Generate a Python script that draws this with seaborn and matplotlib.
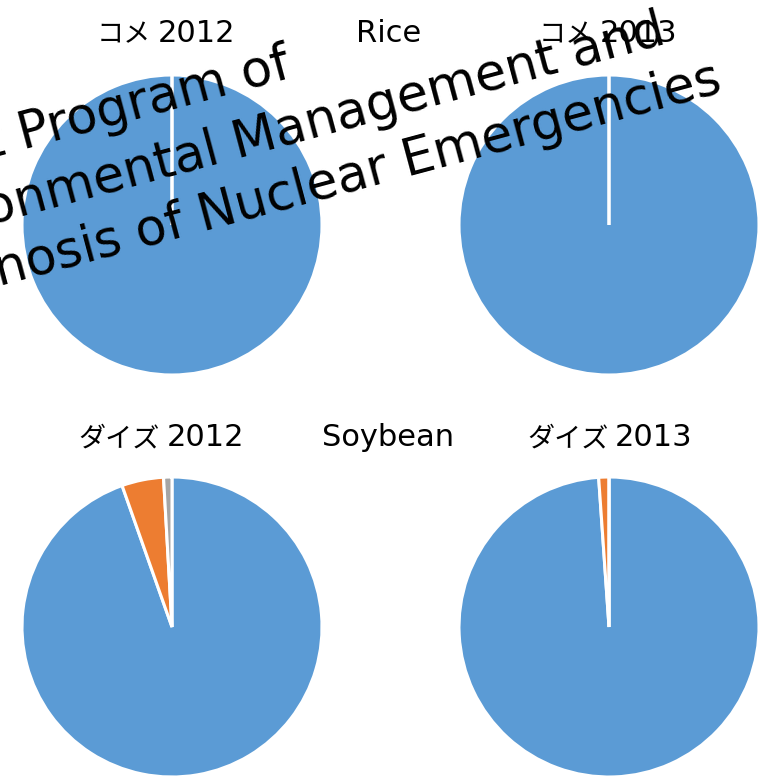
import matplotlib
matplotlib.use("Agg")
import matplotlib.pyplot as plt
import seaborn as sns

# ---- data ----
categories = ["Blue", "Orange", "Grey"]
rice_2012 = [100.0, 0.0, 0.0]
rice_2013 = [100.0, 0.0, 0.0]
soy_2012 = [94.6, 4.5, 0.9]
soy_2013 = [98.9, 1.1, 0.0]
panel_titles = ["コメ 2012", "コメ 2013", "ダイズ 2012", "ダイズ 2013"]
row_titles = ["Rice", "Soybean"]
watermark_lines = ["Joint Program of", "Environmental Management and",
                   "Prognosis of Nuclear Emergencies"]

sns.set_theme(style="white")
plt.rcParams['font.family'] = ['DejaVu Sans', 'Noto Sans CJK JP']
colors = ["#5B9BD5", "#ED7D31", "#A5A5A5"]

W, H = 759, 777
fig = plt.figure(figsize=(W / 100, H / 100), dpi=100)
fig.patch.set_facecolor("white")

def fx(x):
    return x / W

def fy(y):
    return 1 - y / H

R = 300
pies = [(rice_2012, 22, 75), (rice_2013, 459, 75),
        (soy_2012, 22, 477), (soy_2013, 459, 477)]
for vals, x0, y0 in pies:
    ax = fig.add_axes([fx(x0), fy(y0 + R), R / W, R / H])
    ax.pie(vals, colors=colors, startangle=90, counterclock=False,
           wedgeprops=dict(edgecolor="white", linewidth=2.2))
    ax.set_xlim(-1, 1)
    ax.set_ylim(-1, 1)
    ax.set_aspect("equal")
    ax.axis("off")

# panel titles: katakana part (CJK font) + year part
title_pos = [(97, 158, 42), (539, 600, 42), (78, 167, 446), (527, 615, 446)]
for t, (xk, xy, y) in zip(panel_titles, title_pos):
    kana, year = t.split(" ")
    fig.text(fx(xk), fy(y), kana, ha="left", va="baseline", fontsize=19.5,
             color="black", family=["Noto Sans CJK JP", "DejaVu Sans"])
    fig.text(fx(xy), fy(y), year, ha="left", va="baseline", fontsize=22,
             color="black", family="DejaVu Sans")

row_pos = [(389, 42), (388, 446)]
for t, (x, y) in zip(row_titles, row_pos):
    fig.text(fx(x), fy(y), t, ha="center", va="baseline", fontsize=22,
             color="black")

wm_pos = [(294, 78), (668, 43), (724, 92)]
for t, (x, y) in zip(watermark_lines, wm_pos):
    fig.text(fx(x), fy(y), t, ha="right", va="baseline", rotation=15,
             rotation_mode="anchor", fontsize=36.5, color="black",
             family="DejaVu Sans", zorder=10)

fig.savefig("out.png", dpi=100)
